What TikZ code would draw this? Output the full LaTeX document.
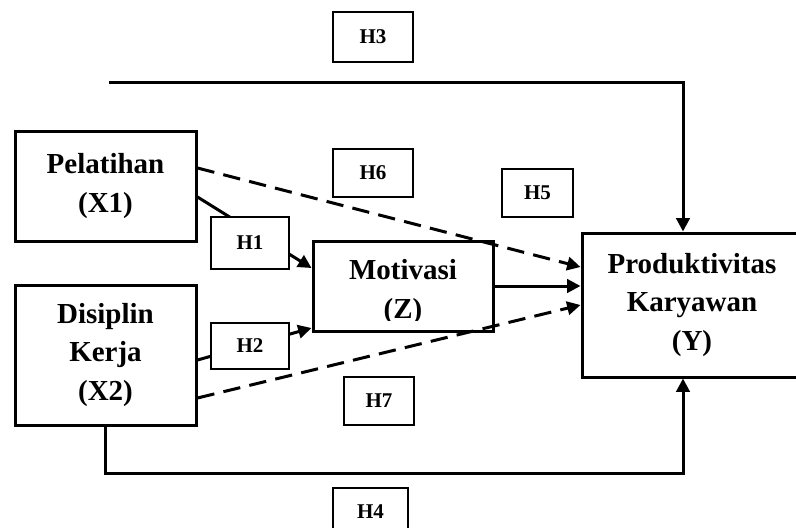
\documentclass[tikz,border=0pt]{standalone}
\usepackage{fontspec}
\setmainfont{Liberation Serif}
\usetikzlibrary{arrows.meta}
\begin{document}
\begin{tikzpicture}[x=0.75pt,y=-0.75pt,
  bigbox/.style={draw, line width=2.25pt, rectangle, align=center, inner sep=0pt,
    font=\bfseries\fontsize{21.75}{29}\selectfont},
  bigtext/.style={align=center, inner sep=0pt, font=\bfseries\fontsize{21.75}{29}\selectfont},
  hbox/.style={draw, line width=1pt, fill=white, rectangle, inner sep=0pt,
    font=\bfseries\fontsize{15.75}{18}\selectfont},
  conn/.style={line width=2.25pt, -{Triangle[length=10pt,width=10pt]}},
  dconn/.style={conn, dash pattern=on 13pt off 7pt},
]
\useasboundingbox (0,0) rectangle (796,528);

% main boxes
\node[bigbox, minimum width=135.75pt, minimum height=82.5pt] (X1) at (105.5,186) {Pelatihan\\(X1)};
\node[bigbox, minimum width=135.75pt, minimum height=105pt] (X2) at (105.5,355) {Disiplin\\Kerja\\(X2)};
\node[bigbox, minimum width=135pt, minimum height=67.5pt] (Z) at (403,286) {};
\begin{scope}
  \clip (313,241) rectangle (493,320.5);
  \node[bigtext] (Zt) at (403,292) {Motivasi\\(Z)};
\end{scope}
\node[bigbox, minimum width=165pt, minimum height=108pt] (Y) at (692,305) {Produktivitas\\Karyawan\\(Y)};

% helper coordinates for free ends / bends
\coordinate (h3s) at (109,83);
\coordinate (vx) at (683,0);

% connectors
\draw[conn] (h3s) -| (vx |- Y.north);
\draw[conn] (X2.south) -- ++(0,47) -| (vx |- Y.south);
\draw[conn] ([yshift=-8.25pt]X1.east) -- ([yshift=13.5pt]Z.west);
\draw[conn] ([yshift=-3.75pt]X2.east) -- ([yshift=-31.5pt]Z.west);
\draw[conn] (Z.east) -- (Z.east -| Y.west);
\draw[dconn] ([yshift=13.5pt]X1.east) -- ([yshift=28.5pt]Y.west);
\draw[dconn] ([yshift=-32.25pt]X2.east) -- (Y.west);

% hypothesis labels
\node[hbox, minimum width=60pt, minimum height=37.5pt] (H3) at (373,37) {H3};
\node[hbox, minimum width=60pt, minimum height=36pt] (H6) at (373,173) {H6};
\node[hbox, minimum width=53.25pt, minimum height=36pt] (H5) at (537.5,193) {H5};
\node[hbox, minimum width=58.5pt, minimum height=39pt] (H1) at (250,243) {H1};
\node[hbox, minimum width=58.5pt, minimum height=34.5pt] (H2) at (250,346) {H2};
\node[hbox, minimum width=52.5pt, minimum height=36pt] (H7) at (379,401) {H7};
\node[hbox, minimum width=56.25pt, minimum height=36pt] (H4) at (370.5,512) {H4};
\end{tikzpicture}
\end{document}
